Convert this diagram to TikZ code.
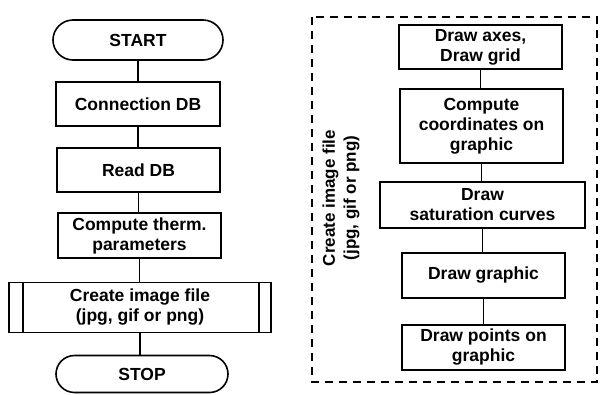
\documentclass[tikz,border=0pt]{standalone}
\usepackage{fontspec}
\setmainfont{Liberation Sans}
\usetikzlibrary{shapes.misc}
\begin{document}
\begin{tikzpicture}[x=1pt,y=-1pt,
  box/.style={draw, line width=1.6pt, align=center, inner sep=1pt,
    font=\fontsize{17.5}{20}\selectfont\bfseries},
  term/.style={box, rounded rectangle},
  link/.style={line width=1.4pt},
  frame/.style={line width=1.6pt, dash pattern=on 8pt off 6pt}]
\useasboundingbox (0,0) rectangle (601,394);
\fill[white] (0,0) rectangle (601,394);
% left column
\node[term, minimum width=172pt, minimum height=40pt] (start) at (138,40) {START};
\node[box, minimum width=164pt, minimum height=44pt] (conn) at (138,104) {Connection DB};
\node[box, minimum width=163pt, minimum height=44pt] (read) at (138.5,170) {Read DB};
\node[box, minimum width=163pt, minimum height=45pt] (comp) at (139.5,235.5) {Compute therm.\\parameters};
\node[box, minimum width=262pt, minimum height=50pt] (create) at (140,307.5) {Create image file\\(jpg, gif or png)};
\draw[line width=1.6pt] ([xshift=15pt]create.north west) -- ([xshift=15pt]create.south west);
\draw[line width=1.6pt] ([xshift=-13pt]create.north east) -- ([xshift=-13pt]create.south east);
\node[term, minimum width=174pt, minimum height=37pt] (stop) at (142,374) {STOP};
\draw[link] (start.south) -- (start.south |- conn.north);
\draw[link] (conn.south) -- (conn.south |- read.north);
\draw[link] (read.south) -- (read.south |- comp.north);
\draw[link] (comp.south) -- (comp.south |- create.north);
\draw[link] (create.south) -- (create.south |- stop.north);
% right column
\draw[frame] (312,17) rectangle (597,382);
\node[box, minimum width=163pt, minimum height=44pt] (axes) at (480.5,47) {Draw axes,\\Draw grid};
\node[box, minimum width=163pt, minimum height=74pt] (coords) at (481.5,126) {Compute\\coordinates on\\graphic};
\node[box, minimum width=205pt, minimum height=46pt] (sat) at (482.5,205) {Draw\\saturation curves};
\node[box, minimum width=163pt, minimum height=45pt] (graph) at (483.5,275.5) {Draw graphic};
\node[box, minimum width=163pt, minimum height=45pt] (points) at (483.5,347.5) {Draw points on\\graphic};
\node[align=center, rotate=90, inner sep=0pt, font=\fontsize{17}{21}\selectfont\bfseries] (side) at (341,198) {Create image file\\(jpg, gif or png)};
\draw[link] (axes.south) -- (axes.south |- coords.north);
\draw[link] (coords.south) -- (coords.south |- sat.north);
\draw[link] (sat.south) -- (sat.south |- graph.north);
\draw[link] (graph.south) -- (graph.south |- points.north);
\end{tikzpicture}
\end{document}
